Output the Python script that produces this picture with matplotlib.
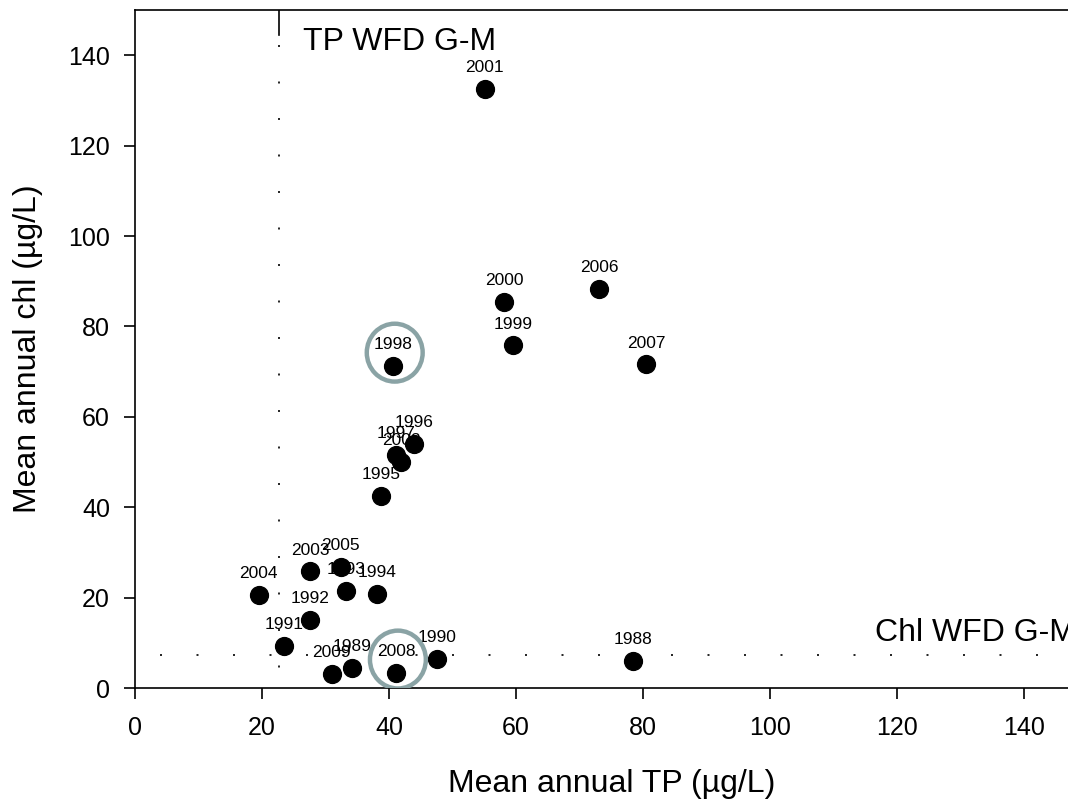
import numpy as np
import matplotlib
matplotlib.use("Agg")
import matplotlib.pyplot as plt
from matplotlib.patches import Ellipse

plt.rcParams['font.family'] = ['Liberation Sans', 'DejaVu Sans']

#___data___#
years = ["2001", "2000", "2006", "1999", "2007", "1998", "1996", "1997", "2002", "1995",
         "2003", "2005", "1993", "1994", "2004", "1992", "1991", "2009", "1989", "2008",
         "1990", "1988"]
tp = [55.1, 58.1, 73.1, 59.5, 80.5, 40.6, 43.9, 41.1, 41.9, 38.7,
      27.6, 32.4, 33.2, 38.1, 19.5, 27.6, 23.5, 31.0, 34.2, 41.1,
      47.6, 78.4]
chl = [132.5, 85.5, 88.2, 75.8, 71.6, 71.2, 54.0, 51.6, 50.0, 42.5,
       25.8, 26.7, 21.4, 20.9, 20.5, 15.0, 9.3, 3.1, 4.4, 3.3,
       6.4, 6.0]

tp_limit = 22.7   # TP WFD good-moderate boundary
chl_limit = 7.3   # Chl WFD good-moderate boundary
circled = ["1998", "2008"]

#___build the plot___#
fig = plt.figure(figsize=(10.68, 8.02), dpi=100)
ax = fig.add_axes([0.1264, 0.1421, 0.8919, 0.8454])

ax.scatter(tp, chl, s=165, color="black", zorder=3)
for yr, x, y in zip(years, tp, chl):
    ax.annotate(yr, (x, y), xytext=(0, 10), textcoords="offset points",
                ha="center", va="bottom", fontsize=12.5, zorder=4)

# circles round the odd years
for yr, x, y in zip(years, tp, chl):
    if yr in circled:
        ax.add_patch(Ellipse((x + 0.3, y + 3.0), 8.8, 12.8, fill=False,
                             edgecolor="#8aa3a5", linewidth=3.2, zorder=5))

# guideline lines - sparse dots, solid stub at the top of the TP one
dots = (0, (1.2, 20.7))
ax.plot([tp_limit, tp_limit], [142.2, 0], color="black", linestyle=dots, linewidth=1.2)
ax.plot([tp_limit, tp_limit], [144.5, 150], color="black", linewidth=1.2)
ax.plot([4, 150], [chl_limit, chl_limit], color="black", linestyle=dots, linewidth=1.2)

ax.text(26.5, 142.9, "TP WFD G-M", fontsize=23, va="center", ha="left")
ax.text(116.5, 12.1, "Chl WFD G-M", fontsize=23, va="center", ha="left")

#___labels and formating___#
ax.set_xlim(0, 150)
ax.set_ylim(0, 150)
ax.set_xticks(np.arange(0, 141, 20))
ax.set_yticks(np.arange(0, 141, 20))
ax.tick_params(labelsize=18, direction="out", length=8, width=1.2, pad=10)
ax.tick_params(axis="x", pad=12)
ax.spines["right"].set_visible(False)
for s in ["left", "bottom", "top"]:
    ax.spines[s].set_linewidth(1.2)
ax.set_xlabel("Mean annual TP (µg/L)", fontsize=23, labelpad=21)
ax.set_ylabel("Mean annual chl (µg/L)", fontsize=23, labelpad=18)

fig.savefig("out.png", dpi=100)
